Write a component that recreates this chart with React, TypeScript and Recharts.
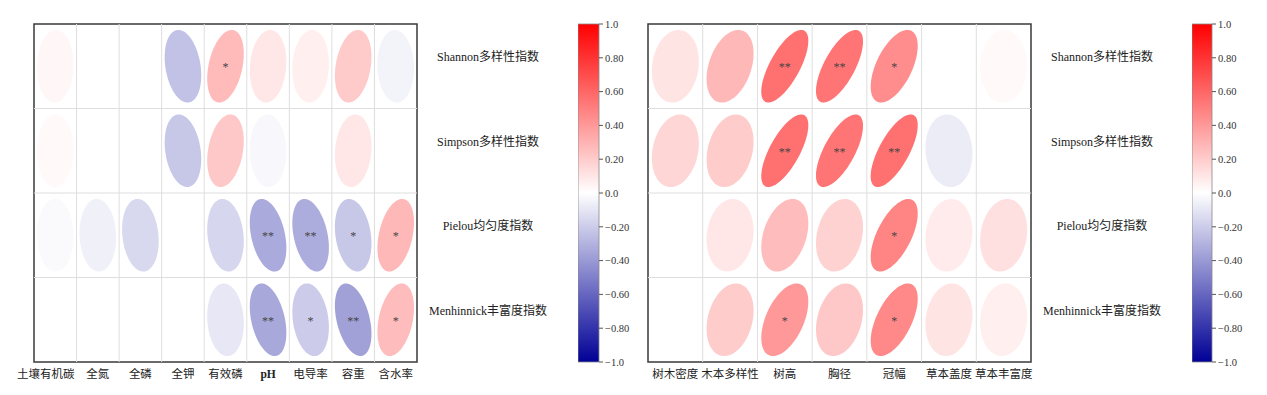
import React from 'react';
import { ScatterChart, Scatter, XAxis, YAxis, ReferenceLine, ReferenceArea, BarChart, Bar } from 'recharts';

const FONT = "'Liberation Serif', 'Times New Roman', 'Noto Sans CJK SC', serif";

// 行：多样性指数
const rowLabels = ['Shannon多样性指数', 'Simpson多样性指数', 'Pielou均匀度指数', 'Menhinnick丰富度指数'];

// 左图：土壤因子
const soilFactors = ['土壤有机碳', '全氮', '全磷', '全钾', '有效磷', 'pH', '电导率', '容重', '含水率'];
const soilShannon = [0.04, 0, 0, -0.25, 0.34, 0.12, 0.08, 0.26, -0.05];
const soilSimpson = [0.03, 0, 0, -0.23, 0.27, -0.03, 0, 0.12, 0];
const soilPielou = [-0.02, -0.06, -0.16, 0, -0.17, -0.35, -0.34, -0.23, 0.35];
const soilMenhinnick = [0, 0, 0, 0, -0.1, -0.36, -0.21, -0.39, 0.33];
const soilShannonSig = ['', '', '', '', '*', '', '', '', ''];
const soilSimpsonSig = ['', '', '', '', '', '', '', '', ''];
const soilPielouSig = ['', '', '', '', '', '**', '**', '*', '*'];
const soilMenhinnickSig = ['', '', '', '', '', '**', '*', '**', '*'];

// 右图：植被因子
const vegFactors = ['树木密度', '木本多样性', '树高', '胸径', '冠幅', '草本盖度', '草本丰富度'];
const vegShannon = [0.13, 0.35, 0.7, 0.68, 0.56, 0, 0.03];
const vegSimpson = [0.2, 0.25, 0.7, 0.68, 0.7, -0.08, 0];
const vegPielou = [0, 0.12, 0.33, 0.22, 0.6, 0.1, 0.15];
const vegMenhinnick = [0, 0.25, 0.5, 0.27, 0.58, 0.13, 0.08];
const vegShannonSig = ['', '', '**', '**', '*', '', ''];
const vegSimpsonSig = ['', '', '**', '**', '**', '', ''];
const vegPielouSig = ['', '', '', '', '*', '', ''];
const vegMenhinnickSig = ['', '', '*', '', '*', '', ''];

// 色标刻度
const barTicks = [-1, -0.8, -0.6, -0.4, -0.2, 0, 0.2, 0.4, 0.6, 0.8, 1];
const barTickLabels = ['\u22121.0', '\u22120.80', '\u22120.60', '\u22120.40', '\u22120.20', '0.0', '0.20', '0.40', '0.60', '0.80', '1.0'];

const toCells = (rows: number[][], sigs: string[][]) =>
  rows.flatMap((vals, i) => vals.map((r, j) => ({ x: j, y: i, r, sig: sigs[i][j] })));

// 正：白→红，负：白→深蓝（负值稍浓一些）
const colorOf = (r: number) => {
  if (r >= 0) {
    const a = Math.min(1, r) * 0.8;
    return `rgb(255,${Math.round(255 * (1 - a))},${Math.round(255 * (1 - a))})`;
  }
  const a = Math.min(1, -r) * 0.95;
  return `rgb(${Math.round(255 * (1 - a))},${Math.round(255 * (1 - a))},${Math.round(255 - a * 105)})`;
};

// corrplot 风格椭圆
const ellipsePath = (cx: number, cy: number, r: number, hw: number, hh: number) => {
  const d = Math.acos(Math.max(-1, Math.min(1, r)));
  let p = '';
  for (let k = 0; k <= 72; k++) {
    const t = (k / 72) * 2 * Math.PI;
    const u = Math.cos(t + d / 2);
    const v = Math.cos(t - d / 2);
    p += (k ? 'L' : 'M') + (cx + u * hw).toFixed(2) + ',' + (cy - v * hh).toFixed(2);
  }
  return p + 'Z';
};

const PLOT_H = 338;
const LABEL_SIZE = 11.5;

function CorrPanel({ left, width, top, plotW, marginLeft, factors, cells }: any) {
  const nCol = factors.length;
  const colW = plotW / nCol;
  const hw = (colW / 2) * 0.86;
  const hh = (PLOT_H / 4 / 2) * 0.86;
  const marginRight = width - marginLeft - plotW - 150;
  return (
    <div style={{ position: 'absolute', left, top: 0 }}>
      <ScatterChart width={width} height={395} margin={{ top, right: marginRight, bottom: 395 - top - PLOT_H - 33, left: marginLeft }}>
        <XAxis
          type="number"
          dataKey="x"
          domain={[-0.5, nCol - 0.5]}
          ticks={factors.map((_: string, i: number) => i)}
          interval={0}
          height={33}
          axisLine={false}
          tickLine={false}
          tick={(p: any) => {
            const label = factors[p.payload.value];
            // 第一列标签过长时右对齐到格线
            const shift = p.payload.value === 0 && label.length * LABEL_SIZE > colW;
            return (
              <text x={shift ? p.x + colW / 2 - 2 : p.x} y={p.y + 8} textAnchor={shift ? 'end' : 'middle'} fontSize={LABEL_SIZE}
                fontFamily={FONT} fill="#222" fontWeight={label === 'pH' ? 'bold' : 'normal'}>
                {label}
              </text>
            );
          }}
        />
        <YAxis
          type="number"
          dataKey="y"
          orientation="right"
          reversed
          domain={[-0.5, 3.5]}
          ticks={[0, 1, 2, 3]}
          interval={0}
          width={150}
          axisLine={false}
          tickLine={false}
          tick={(p: any) => (
            <text x={p.x + 63} y={p.y - 5} textAnchor="middle" fontSize={12} fontFamily={FONT} fill="#222">
              {rowLabels[p.payload.value]}
            </text>
          )}
        />
        {factors.slice(1).map((_: string, i: number) => (
          <ReferenceLine key={'v' + i} x={i + 0.5} stroke="#dedede" />
        ))}
        {[0.5, 1.5, 2.5].map((v) => (
          <ReferenceLine key={'h' + v} y={v} stroke="#dedede" />
        ))}
        <Scatter
          data={cells}
          isAnimationActive={false}
          shape={(p: any) => (
            <g>
              <path d={ellipsePath(p.cx, p.cy, p.payload.r, hw, hh)} fill={colorOf(p.payload.r)} />
              {p.payload.sig ? (
                <text x={p.cx} y={p.cy + 5} textAnchor="middle" fontSize={12} fontFamily={FONT} fill="#444">
                  {p.payload.sig}
                </text>
              ) : null}
            </g>
          )}
        />
        <ReferenceArea x1={-0.5} x2={nCol - 0.5} y1={-0.5} y2={3.5} fill="none" stroke="#3a3a3a" strokeWidth={1.5} />
      </ScatterChart>
    </div>
  );
}

function ColorBar({ left, barW, gid }: any) {
  return (
    <div style={{ position: 'absolute', left, top: 0 }}>
      <BarChart width={barW + 46} height={395} data={[{ name: 'cb', v: [-1, 1] }]}
        margin={{ top: 24, right: 0, bottom: 33, left: 0 }} barCategoryGap={0}>
        <defs>
          <linearGradient id={gid} x1="0" y1="0" x2="0" y2="1">
            <stop offset="0%" stopColor="#ff0000" />
            <stop offset="50%" stopColor="#ffffff" />
            <stop offset="100%" stopColor="#000096" />
          </linearGradient>
        </defs>
        <XAxis dataKey="name" hide />
        <YAxis
          orientation="right"
          domain={[-1, 1]}
          ticks={barTicks}
          interval={0}
          width={46}
          axisLine={false}
          tickSize={4}
          tickLine={{ stroke: '#555' }}
          tickFormatter={(v: number) => barTickLabels[barTicks.indexOf(v)]}
          tick={{ fontSize: 10.5, fontFamily: FONT, fill: '#333' }}
        />
        <Bar dataKey="v" fill={`url(#${gid})`} stroke="#888" strokeWidth={0.8} isAnimationActive={false} />
      </BarChart>
    </div>
  );
}

const soilCells = toCells(
  [soilShannon, soilSimpson, soilPielou, soilMenhinnick],
  [soilShannonSig, soilSimpsonSig, soilPielouSig, soilMenhinnickSig]
);
const vegCells = toCells(
  [vegShannon, vegSimpson, vegPielou, vegMenhinnick],
  [vegShannonSig, vegSimpsonSig, vegPielouSig, vegMenhinnickSig]
);

export default function App() {
  return (
    <div style={{ position: 'relative', width: 1267, height: 395, background: '#fff', fontFamily: FONT, overflow: 'hidden' }}>
      <style>{'body{margin:0}'}</style>
      <CorrPanel left={0} width={640} top={24} plotW={383} marginLeft={34} factors={soilFactors} cells={soilCells} />
      <ColorBar left={578} barW={21} gid="cbLeft" />
      <CorrPanel left={640} width={627} top={24} plotW={383} marginLeft={8} factors={vegFactors} cells={vegCells} />
      <ColorBar left={1192} barW={20} gid="cbRight" />
    </div>
  );
}
